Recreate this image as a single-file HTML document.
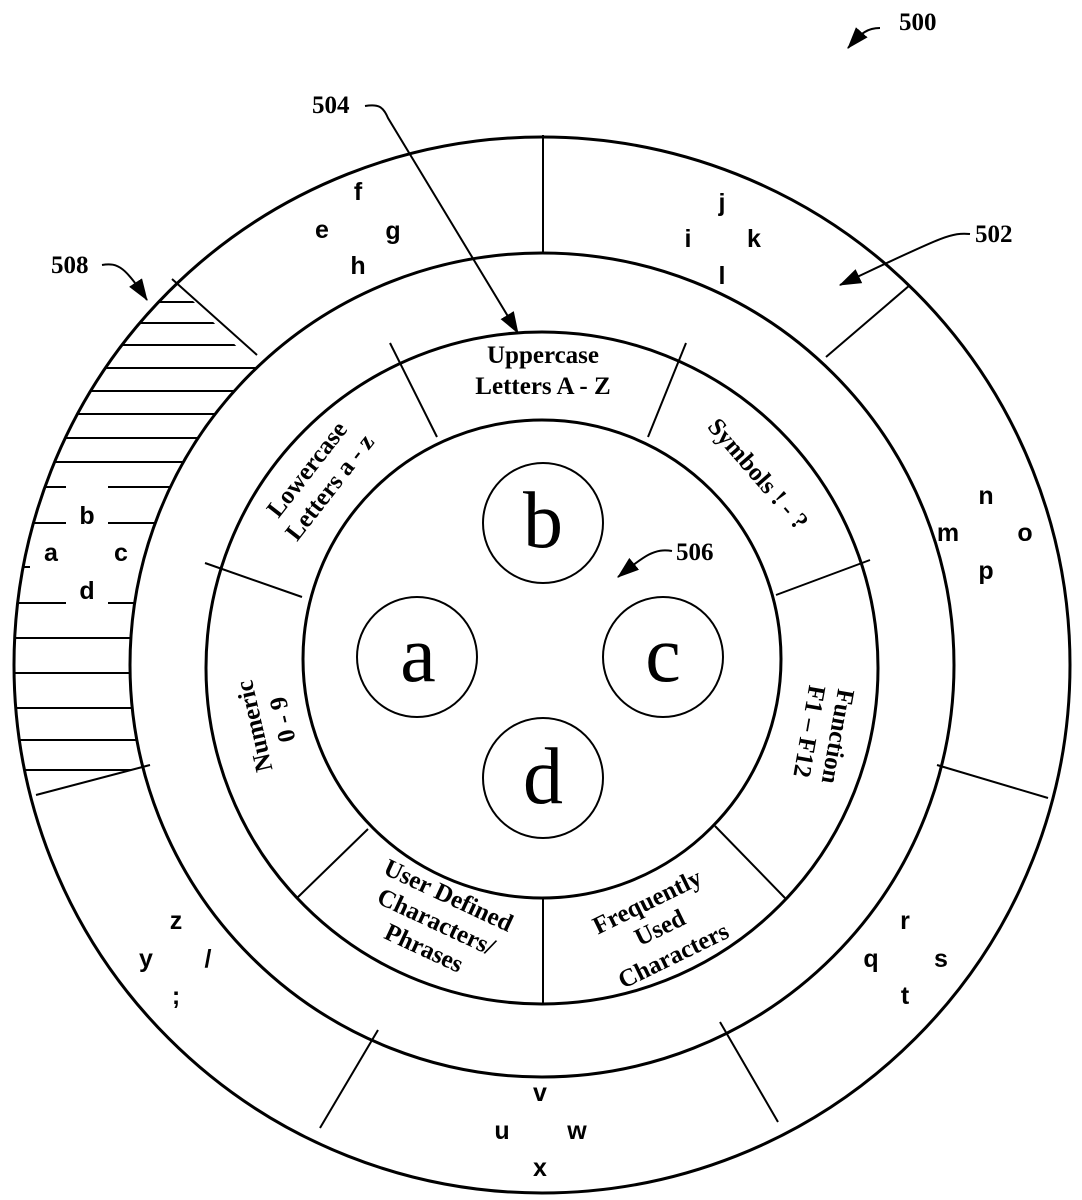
<!DOCTYPE html>
<html><head><meta charset="utf-8"><style>
html,body{margin:0;padding:0;background:#fff;}
svg{display:block;}
.s{font-family:"Liberation Sans",sans-serif;font-weight:bold;font-size:25px;text-anchor:middle;}
.r{font-family:"Liberation Serif",serif;font-weight:bold;font-size:25px;text-anchor:middle;}
.n{font-family:"Liberation Serif",serif;font-weight:bold;font-size:25px;}
.big{font-family:"Liberation Serif",serif;font-size:80px;text-anchor:middle;}
</style></head><body>
<svg width="1082" height="1200" viewBox="0 0 1082 1200" xmlns="http://www.w3.org/2000/svg">
<defs>
<marker id="ah2" viewBox="0 0 20 14" refX="19" refY="7" markerWidth="22" markerHeight="16" orient="auto" markerUnits="userSpaceOnUse">
<path d="M0,0 L20,7 L0,14 z" fill="#000"/></marker>
<clipPath id="hc"><path d="M542,665 L-198,-107 L-470,925 z"/></clipPath>
<clipPath id="ring"><path fill-rule="evenodd" d="M542,137 a528,528 0 1,0 0.01,0 z M542,253 a412,412 0 1,1 -0.01,0 z"/></clipPath>
</defs>
<g stroke="#000" fill="none">
<g clip-path="url(#ring)" stroke-width="2">
<g clip-path="url(#hc)">
<line x1="0" y1="302" x2="300" y2="302"/>
<line x1="0" y1="323" x2="300" y2="323"/>
<line x1="0" y1="345" x2="300" y2="345"/>
<line x1="0" y1="368" x2="300" y2="368"/>
<line x1="0" y1="391" x2="300" y2="391"/>
<line x1="0" y1="414" x2="300" y2="414"/>
<line x1="0" y1="438" x2="300" y2="438"/>
<line x1="0" y1="462" x2="300" y2="462"/>
<line x1="0" y1="487" x2="66" y2="487"/><line x1="108" y1="487" x2="300" y2="487"/>
<line x1="0" y1="523" x2="66" y2="523"/><line x1="108" y1="523" x2="300" y2="523"/>
<line x1="0" y1="567" x2="30" y2="567"/><line x1="145" y1="567" x2="300" y2="567"/>
<line x1="0" y1="603" x2="66" y2="603"/><line x1="108" y1="603" x2="300" y2="603"/>
<line x1="0" y1="638" x2="300" y2="638"/>
<line x1="0" y1="673" x2="300" y2="673"/>
<line x1="0" y1="708" x2="300" y2="708"/>
<line x1="0" y1="740" x2="300" y2="740"/>
<line x1="0" y1="770" x2="300" y2="770"/>
</g></g>
<circle cx="542" cy="665" r="528" stroke-width="3"/>
<circle cx="542" cy="665" r="412" stroke-width="3"/>
<circle cx="542" cy="668" r="336" stroke-width="3"/>
<circle cx="542" cy="659" r="239" stroke-width="3"/>
<circle cx="543" cy="523" r="60" stroke-width="2"/>
<circle cx="417" cy="657" r="60" stroke-width="2"/>
<circle cx="663" cy="657" r="60" stroke-width="2"/>
<circle cx="543" cy="778" r="60" stroke-width="2"/>
<g stroke-width="2">
<line x1="543" y1="135" x2="543" y2="253"/>
<line x1="910" y1="285" x2="826" y2="357"/>
<line x1="1048" y1="798" x2="937" y2="765"/>
<line x1="778" y1="1122" x2="720" y2="1022"/>
<line x1="320" y1="1128" x2="378" y2="1030"/>
<line x1="36" y1="795" x2="150" y2="765"/>
<line x1="172" y1="279" x2="257" y2="355"/>
<line x1="390" y1="343" x2="437" y2="437"/>
<line x1="686" y1="343" x2="648" y2="437"/>
<line x1="870" y1="560" x2="776" y2="595"/>
<line x1="785" y1="898" x2="715" y2="826"/>
<line x1="543" y1="898" x2="543" y2="1004"/>
<line x1="297" y1="898" x2="368" y2="829"/>
<line x1="205" y1="563" x2="302" y2="597"/>
</g>
<path d="M880,28 C868,28 862,32 848,48" stroke-width="2" marker-end="url(#ah2)"/>
<path d="M365,106 C378,104 383,106 388,118 L518,333" stroke-width="2" marker-end="url(#ah2)"/>
<path d="M970,234 C950,232 940,238 840,285" stroke-width="2" marker-end="url(#ah2)"/>
<path d="M102,265 C118,262 126,268 147,300" stroke-width="2" marker-end="url(#ah2)"/>
<path d="M672,551 C655,548 645,555 618,577" stroke-width="2" marker-end="url(#ah2)"/>
</g>
<g>
<text class="n" x="899" y="30">500</text>
<text class="n" x="312" y="113">504</text>
<text class="n" x="975" y="242">502</text>
<text class="n" x="51" y="273">508</text>
<text class="n" x="676" y="560">506</text>
</g>
<g class="s">
<text x="358" y="200">f</text><text x="322" y="238">e</text><text x="393" y="239">g</text><text x="358" y="274">h</text>
<text x="722" y="211">j</text><text x="688" y="247">i</text><text x="754" y="247">k</text><text x="722" y="284">l</text>
<text x="986" y="504">n</text><text x="948" y="541">m</text><text x="1025" y="541">o</text><text x="986" y="579">p</text>
<text x="905" y="929">r</text><text x="871" y="967">q</text><text x="941" y="967">s</text><text x="905" y="1004">t</text>
<text x="540" y="1101">v</text><text x="502" y="1139">u</text><text x="577" y="1139">w</text><text x="540" y="1176">x</text>
<text x="176" y="929">z</text><text x="146" y="967">y</text><text x="208" y="967">/</text><text x="176" y="1004">;</text>
<text x="87" y="524">b</text><text x="51" y="561">a</text><text x="121" y="561">c</text><text x="87" y="599">d</text>
</g>
<g class="big">
<text x="543" y="547">b</text><text x="418" y="681">a</text><text x="663" y="681">c</text><text x="543" y="803">d</text>
</g>
<g class="r">
<text x="543" y="363">Uppercase</text><text x="543" y="394">Letters A - Z</text>
<g transform="translate(318,478) rotate(-52)"><text x="0" y="-6">Lowercase</text><text x="0" y="23">Letters a - z</text></g>
<g transform="translate(758,474) rotate(49)"><text x="0" y="8">Symbols ! - ?</text></g>
<g transform="translate(824,734) rotate(100)"><text x="0" y="-6">Function</text><text x="0" y="23">F1 – F12</text></g>
<g transform="translate(659,926) rotate(-26)"><text x="0" y="-19">Frequently</text><text x="0" y="10">Used</text><text x="0" y="41">Characters</text></g>
<g transform="translate(437,920) rotate(25)"><text x="0" y="-19">User Defined</text><text x="0" y="10">Characters/</text><text x="0" y="39">Phrases</text></g>
<g transform="translate(268,723) rotate(-103)"><text x="0" y="-6">Numeric</text><text x="0" y="23">0 - 9</text></g>
</g>
</svg>
</body></html>
